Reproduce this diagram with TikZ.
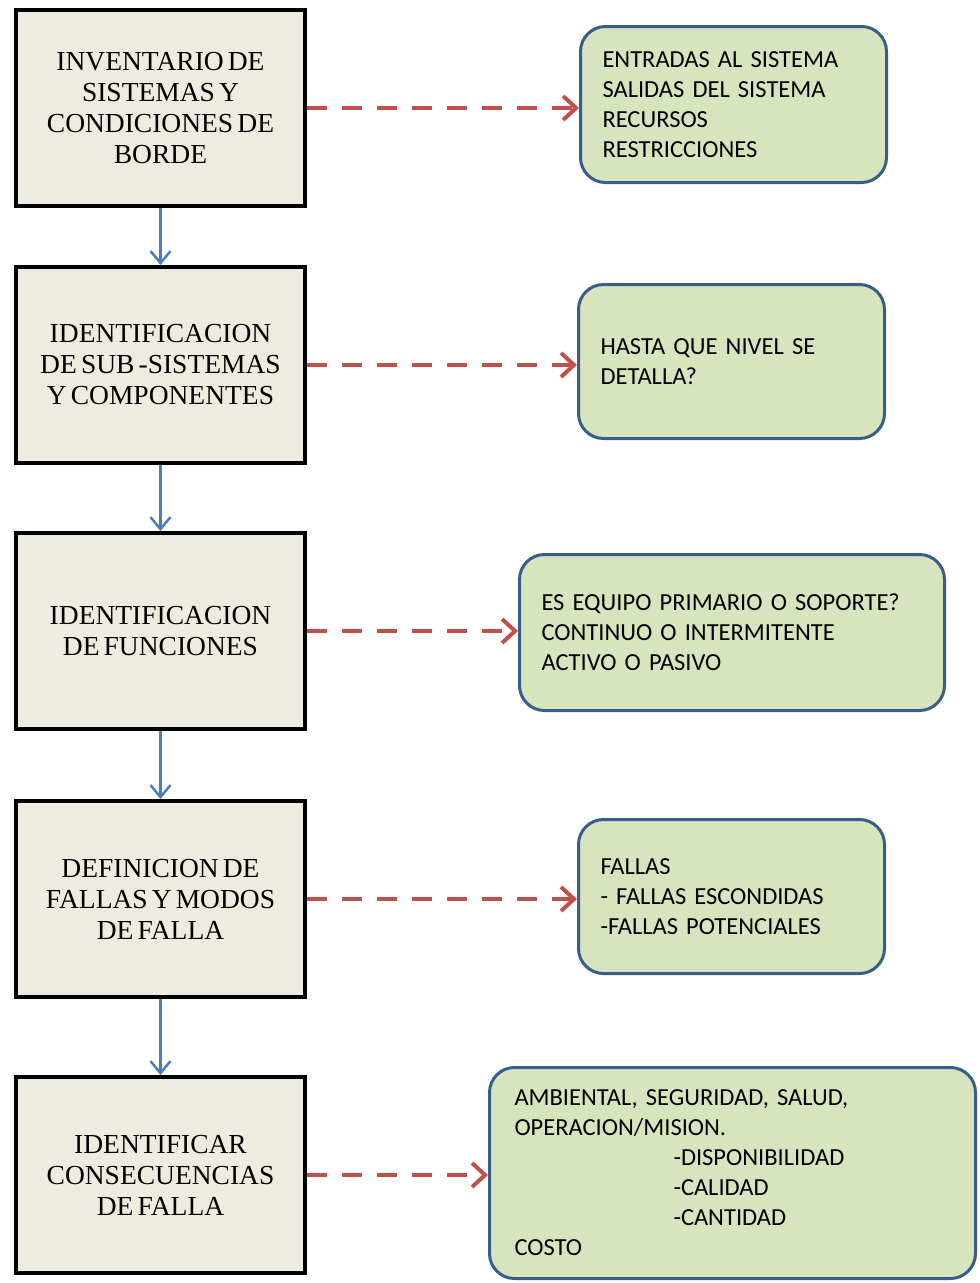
\documentclass[tikz,border=0pt]{standalone}
\usepackage{fontspec}
\setmainfont[WordSpace=0.6]{Liberation Serif}
\newfontfamily\calib[WordSpace=0.6]{Carlito}
\usepackage{tikz}
\usetikzlibrary{arrows.meta}
\usetikzlibrary{positioning}
\definecolor{beige}{HTML}{EEECE1}
\definecolor{verde}{HTML}{D7E4BD}
\definecolor{azulborde}{HTML}{385D8A}
\definecolor{rojo}{HTML}{C0504D}
\definecolor{azul}{HTML}{4A7EBB}
\tikzstyle{etapa}=[
        rectangle,
        draw=black,
        line width=4pt,
        fill=beige,
        minimum width=289pt,
        minimum height=196pt,
        align=center,
        font=\fontsize{27.5}{31}\selectfont
]
\tikzstyle{nota}=[
        rectangle,
        draw=azulborde,
        line width=3pt,
        rounded corners=25pt,
        fill=verde,
        inner xsep=22pt,
        align=left,
        font=\calib\fontsize{24.5}{30}\selectfont
]
\tikzstyle{suite}=[-{Straight Barb[length=12pt,width=20pt]},azul,line width=2.5pt]
\tikzstyle{detalle}=[-{Straight Barb[length=13pt,width=24pt]},rojo,line width=4pt,dash pattern=on 20pt off 15pt]

\begin{document}
\begin{tikzpicture}[x=1pt,y=-1pt]
\useasboundingbox (0,0) rectangle (980,1283);
\node[etapa] (inv) at (160.5,108) {INVENTARIO DE\\SISTEMAS Y\\CONDICIONES DE\\BORDE};
\node[etapa] (sub) at (160.5,365) {IDENTIFICACION\\DE SUB -SISTEMAS\\Y COMPONENTES};
\node[etapa] (fun) at (160.5,631) {IDENTIFICACION\\DE FUNCIONES};
\node[etapa] (fal) at (160.5,899) {DEFINICION DE\\FALLAS Y MODOS\\DE FALLA};
\node[etapa] (con) at (160.5,1175) {IDENTIFICAR\\CONSECUENCIAS\\DE FALLA};
\node[nota,minimum width=306pt,minimum height=156pt,text width=262pt] (ent) at (733.5,104.5) {ENTRADAS AL SISTEMA\\SALIDAS DEL SISTEMA\\RECURSOS\\RESTRICCIONES};
\node[nota,minimum width=306pt,minimum height=154pt,text width=262pt] (niv) at (731.5,361.5) {HASTA QUE NIVEL SE\\DETALLA?};
\node[nota,minimum width=425pt,minimum height=156pt,text width=381pt] (equ) at (732,632.5) {ES EQUIPO PRIMARIO O SOPORTE?\\CONTINUO O INTERMITENTE\\ACTIVO O PASIVO};
\node[nota,minimum width=306pt,minimum height=154pt,text width=262pt] (tip) at (731.5,896.5) {FALLAS\\- FALLAS ESCONDIDAS\\-FALLAS POTENCIALES};
\node[nota,minimum width=486pt,minimum height=211pt,text width=436pt,inner xsep=25pt] (amb) at (732.5,1173) {AMBIENTAL, SEGURIDAD, SALUD,\\OPERACION/MISION.\\\hspace*{159pt}-DISPONIBILIDAD\\\hspace*{159pt}-CALIDAD\\\hspace*{159pt}-CANTIDAD\\COSTO};
%Drawing Edges
\draw[suite] (inv) -- (sub);
\draw[suite] (sub) -- (fun);
\draw[suite] (fun) -- (fal);
\draw[suite] (fal) -- (con);
\draw[detalle] (inv.east) -- (inv.east -| ent.west);
\draw[detalle] (sub.east) -- (sub.east -| niv.west);
\draw[detalle] (fun.east) -- (fun.east -| equ.west);
\draw[detalle] (fal.east) -- (fal.east -| tip.west);
\draw[detalle] (con.east) -- (con.east -| amb.west);
\end{tikzpicture}
\end{document}
